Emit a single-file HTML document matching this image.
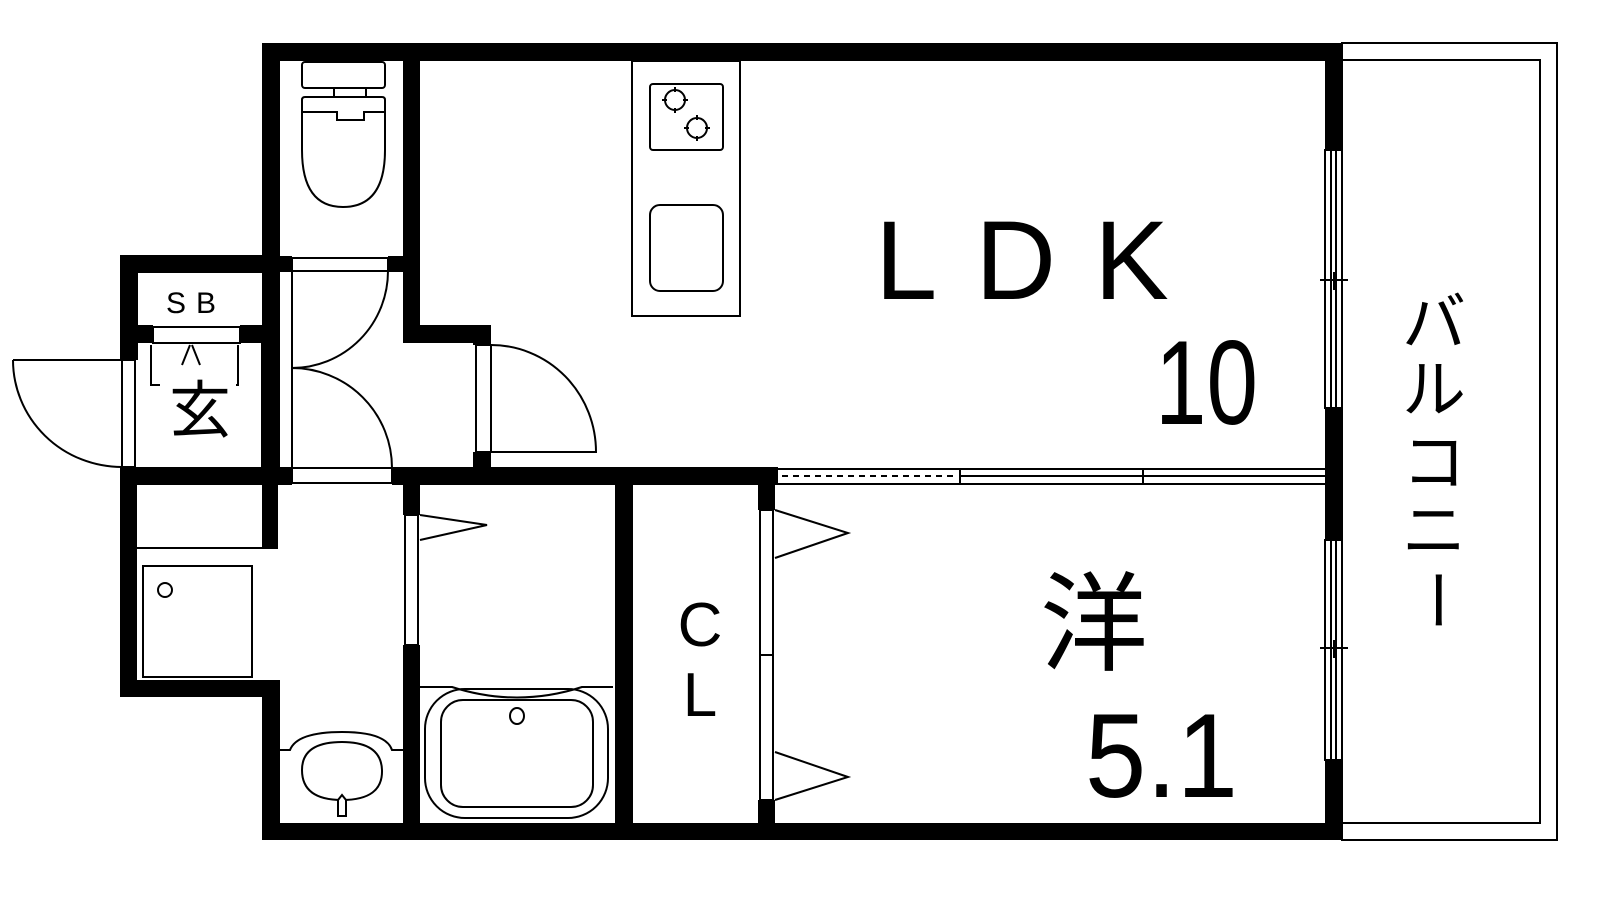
<!DOCTYPE html>
<html><head><meta charset="utf-8"><style>
html,body{margin:0;padding:0;background:#fff;width:1600px;height:900px;overflow:hidden}
svg{display:block}
text{font-family:"Liberation Sans","Noto Sans CJK JP",sans-serif;fill:#000}
</style></head><body>
<svg width="1600" height="900" viewBox="0 0 1600 900" xmlns="http://www.w3.org/2000/svg">
<g fill="none" stroke="#000" stroke-width="2">
<rect x="1342" y="43" width="215" height="797"/>
<rect x="1342" y="60" width="198" height="763"/>
</g>
<g fill="#000">
<rect x="262" y="43" width="1080" height="18"/>
<rect x="262" y="43" width="18" height="425"/>
<rect x="403" y="43" width="17" height="300"/>
<rect x="280" y="256" width="12" height="16"/>
<rect x="388" y="256" width="15" height="16"/>
<rect x="403" y="325" width="88" height="18"/>
<rect x="473" y="325" width="18" height="20"/>
<rect x="473" y="452" width="18" height="18"/>
<rect x="120" y="255" width="160" height="18"/>
<rect x="120" y="255" width="18" height="105"/>
<rect x="120" y="325" width="33" height="18"/>
<rect x="240" y="325" width="40" height="18"/>
<rect x="120" y="467" width="172" height="18"/>
<rect x="392" y="467" width="386" height="18"/>
<rect x="120" y="467" width="17" height="230"/>
<rect x="120" y="680" width="160" height="17"/>
<rect x="262" y="680" width="18" height="160"/>
<rect x="262" y="485" width="16" height="63"/>
<rect x="262" y="823" width="1080" height="17"/>
<rect x="403" y="485" width="17" height="30"/>
<rect x="403" y="645" width="17" height="178"/>
<rect x="615" y="485" width="18" height="338"/>
<rect x="758" y="485" width="17" height="25"/>
<rect x="758" y="800" width="17" height="23"/>
<rect x="1325" y="43" width="17" height="107"/>
<rect x="1325" y="408" width="17" height="132"/>
<rect x="1325" y="760" width="17" height="80"/>
</g>
<g fill="none" stroke="#000" stroke-width="2">
<rect x="153" y="327" width="87" height="16"/>
<path d="M151 345 V385 H160 M238 345 V385 H236"/>
<path d="M190 345 L182 365 M192 345 L200 365"/>
<rect x="122" y="360" width="13" height="107" fill="#fff"/>
<path d="M13 360 H122 M13 360 A109 107 0 0 0 122 467"/>
<path d="M262 343 V467 M276 343 V467"/>
<rect x="292" y="258" width="96" height="13" fill="#fff"/>
<path d="M292 271 V468 M388 271 A96 97 0 0 1 292 368 A100 100 0 0 1 392 468"/>
<rect x="292" y="468" width="100" height="15" fill="#fff"/>
<rect x="476" y="345" width="15" height="107" fill="#fff"/>
<path d="M491 345 A105 107 0 0 1 596 452 H491"/>
<rect x="405" y="515" width="13" height="130" fill="#fff"/>
<path d="M420 515 L487 525 L420 540"/>
<rect x="760" y="510" width="13" height="290" fill="#fff"/>
<path d="M760 655 H773"/>
<path d="M775 510 L848 533 L775 558 M775 752 L848 777 L775 800"/>
<path d="M778 469 H1325 M778 484 H1325 M960 476 H1325 M960 469 V484 M1143 469 V484"/>
<path d="M782 476 H958" stroke-dasharray="6 5"/>
<rect x="1325" y="150" width="17" height="258" fill="#fff"/>
<path d="M1331 150 V408 M1336 150 V408 M1320 280 H1348 M1334 272 V290"/>
<rect x="1325" y="540" width="17" height="220" fill="#fff"/>
<path d="M1331 540 V760 M1336 540 V760 M1320 648 H1348 M1334 640 V658"/>
<path d="M137 548 H278"/>
<rect x="143" y="566" width="109" height="111"/>
<circle cx="165" cy="590" r="7"/>
<rect x="302" y="62" width="83" height="26" rx="3"/>
<rect x="334" y="88" width="32" height="9"/>
<path d="M305 97 H382 Q385 97 385 100 V150 Q385 207 343 207 Q302 207 302 150 V100 Q302 97 305 97 Z"/>
<path d="M302 112 H337 V120 H364 V112 H385"/>
<rect x="632" y="61" width="108" height="255"/>
<rect x="650" y="84" width="73" height="66" rx="3"/>
<circle cx="675" cy="100" r="10"/>
<circle cx="697" cy="128" r="10"/>
<path d="M675 87 V92 M675 108 V113 M662 100 H667 M683 100 H688 M697 115 V120 M697 136 V141 M684 128 H689 M705 128 H710"/>
<rect x="650" y="205" width="73" height="86" rx="10"/>
<path d="M280 750 H290 Q297 732 342 732 Q386 732 392 750 H403"/>
<path d="M342 742 Q381 742 382 770 Q383 800 342 800 Q302 800 302 770 Q302 742 342 742 Z"/>
<path d="M338 816 V800 L342 795 L346 800 V816 Z" fill="#fff"/>
<path d="M420 687 H452 Q517 708 582 687 H613"/>
<rect x="425" y="689" width="183" height="129" rx="40"/>
<rect x="441" y="700" width="152" height="107" rx="22"/>
<ellipse cx="517" cy="716" rx="7" ry="8"/>
</g>
<text x="196" y="313" font-size="30" text-anchor="middle" letter-spacing="10">SB</text>
<text x="200" y="432" font-size="62" text-anchor="middle">玄</text>
<text x="875" y="299" font-size="112" letter-spacing="38">LDK</text>
<text x="1155" y="424" font-size="120" textLength="103" lengthAdjust="spacingAndGlyphs">10</text>
<text x="1040" y="662" font-size="108">洋</text>
<text x="1085" y="797" font-size="120" textLength="153" lengthAdjust="spacingAndGlyphs">5.1</text>
<text x="700" y="646" font-size="62" text-anchor="middle">C</text>
<text x="700" y="716" font-size="62" text-anchor="middle">L</text>
<g font-size="64" text-anchor="middle">
<text x="1434" y="345">バ</text>
<text x="1434" y="412">ル</text>
<text x="1434" y="485">コ</text>
<text x="1434" y="553">ニ</text>
<text x="1434" y="620" transform="rotate(90 1434 600)">ー</text>
</g>
</svg>
</body></html>
